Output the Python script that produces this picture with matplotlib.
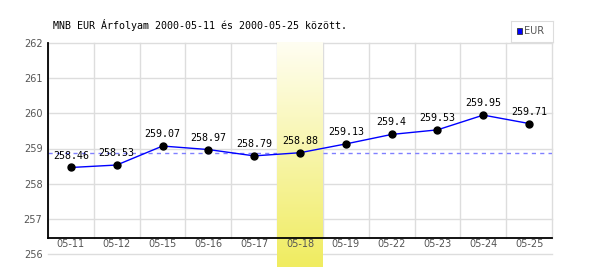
import numpy as np
import matplotlib.pyplot as plt
from matplotlib.colors import LinearSegmentedColormap

# MNB EUR exchange rate, 2000-05-11 .. 2000-05-25
dates = ["05-11", "05-12", "05-15", "05-16", "05-17", "05-18",
         "05-19", "05-22", "05-23", "05-24", "05-25"]
rates = [258.46, 258.53, 259.07, 258.97, 258.79, 258.88,
         259.13, 259.4, 259.53, 259.95, 259.71]
highlight_idx = 5
y_ticks = [256, 257, 258, 259, 260, 261, 262]
title = "MNB EUR Árfolyam 2000-05-11 és 2000-05-25 között."

grid_col = "#dddddd"
tick_col = "#555555"

fig = plt.figure(figsize=(6, 2.7), dpi=100)
ax = fig.add_axes([48 / 600, 16 / 270, 504 / 600, 211 / 270])
x = np.arange(len(dates))
y_axis = 256.45  # where the black x axis line sits

for s in ax.spines.values():
    s.set_visible(False)
ax.plot([-0.5, -0.5], [y_axis, 262], color="black", lw=1.3, zorder=4.5, clip_on=False)
ax.plot([-0.5, len(dates) - 0.5], [y_axis, y_axis], color="black", lw=1.3,
        zorder=4.5, clip_on=False)

# grid
for yv in y_ticks:
    ax.axhline(yv, color=grid_col, lw=1, zorder=1, clip_on=False)
for xv in np.arange(-0.5, len(dates)):
    ax.plot([xv, xv], [y_axis, 262], color=grid_col, lw=1, zorder=1, clip_on=False)

# reference line at the highlighted day's value
ax.axhline(rates[highlight_idx], color="#8080ff", lw=1, ls=(0, (3, 3)), zorder=2)

# highlighted day, yellow gradient
cmap = LinearSegmentedColormap.from_list("hl", ["#fffef2", "#f0ec60"])
grad = np.linspace(0, 1, 256).reshape(-1, 1)
ax.imshow(grad, cmap=cmap, aspect="auto", origin="upper",
          extent=[highlight_idx - 0.5, highlight_idx + 0.5, 255.63, 262],
          zorder=3, clip_on=False)
ax.set_xlim(-0.5, len(dates) - 0.5)
ax.set_ylim(256, 262)

ax.plot(x, rates, color="#0000ff", lw=1, zorder=5)
ax.plot(x, rates, "o", color="black", ms=5, zorder=6)
for xi, v in zip(x, rates):
    ax.annotate("{0:g}".format(v), (xi, v), xytext=(0, 5), textcoords="offset points",
                ha="center", va="bottom", fontsize=7.2, family="DejaVu Sans Mono",
                zorder=7)

ax.set_xticks(x)
ax.set_xticklabels(dates)
ax.set_yticks(y_ticks)
ax.tick_params(axis="x", length=0, pad=-11, labelsize=7, labelcolor=tick_col)
ax.tick_params(axis="y", length=0, pad=4, labelsize=7, labelcolor=tick_col)
ax.xaxis.set_zorder(8)

fig.text(53 / 600, 1 - 25 / 270, title, fontsize=7.2, family="DejaVu Sans Mono",
         va="center", ha="left")

# legend box
leg = fig.add_axes([511 / 600, 1 - 41.5 / 270, 42 / 600, 21 / 270])
leg.set_xticks([])
leg.set_yticks([])
for s in leg.spines.values():
    s.set_color(grid_col)
leg.add_patch(plt.Rectangle((0.15, 0.38), 0.11, 0.26, transform=leg.transAxes,
                            facecolor="#0000ff", edgecolor="#333333", lw=0.6))
leg.text(0.32, 0.5, "EUR", transform=leg.transAxes, fontsize=7, color=tick_col,
         va="center", ha="left")

fig.savefig("out.png", dpi=100)
